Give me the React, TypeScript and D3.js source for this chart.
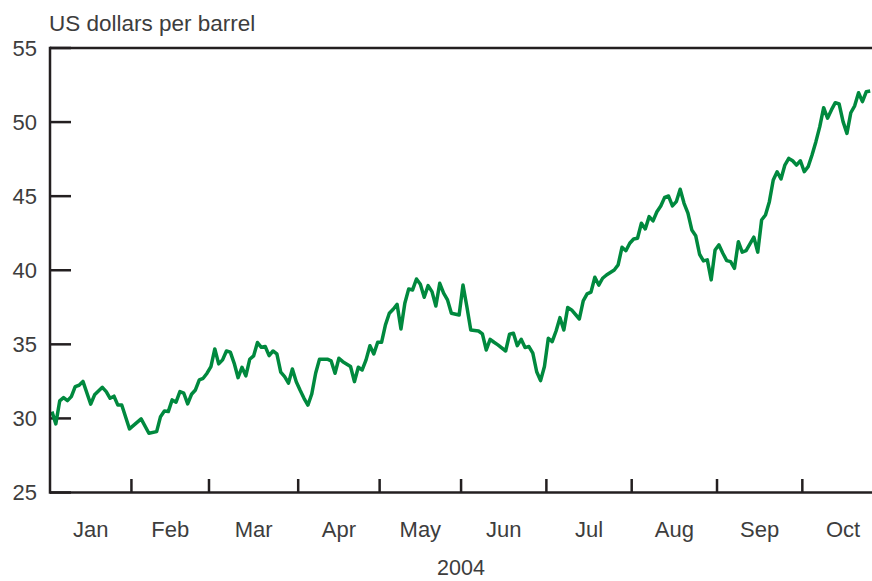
import React from "react";
import * as d3 from "d3";

// Trading-day index (from 2 Jan 2004) and oil price, US dollars per barrel
const days: number[] = [
  0, 1, 2, 3, 4, 5, 6, 7, 8, 10, 11, 13, 14, 15, 16, 17, 18, 20, 23, 25, 27, 28, 29, 30,
  31, 32, 33, 34, 35, 36, 37, 38, 39, 40, 41, 42, 43, 44, 45, 46, 47, 48, 49, 50, 51, 52,
  53, 54, 55, 56, 57, 58, 59, 60, 61, 62, 63, 64, 65, 66, 67, 68, 69, 71, 72, 73, 74, 75,
  77, 78, 79, 80, 81, 82, 83, 84, 85, 86, 87, 88, 89, 90, 91, 92, 93, 94, 95, 96, 97, 98,
  99, 100, 101, 102, 103, 105, 106, 107, 108, 110, 111, 112, 113, 114, 115, 117, 118, 119,
  120, 121, 122, 123, 124, 125, 126, 127, 128, 129, 130, 131, 132, 133, 134, 136, 137, 138,
  139, 140, 141, 142, 143, 145, 146, 147, 148, 149, 150, 151, 152, 153, 154, 155, 156, 157,
  158, 159, 160, 161, 162, 163, 164, 165, 166, 167, 168, 169, 170, 171, 172, 173, 174, 175,
  176, 177, 178, 179, 181, 182, 183, 184, 185, 186, 187, 188, 189, 190, 191, 192, 193, 194,
  195, 196, 197, 198, 199, 200, 201, 202, 203, 204, 205, 206, 207, 208, 209, 210, 211,
];

const prices: number[] = [
  30.46, 29.63, 31.18, 31.4, 31.2, 31.47, 32.15, 32.24, 32.5, 30.96, 31.59, 32.1, 31.81, 31.36,
  31.5, 30.9, 30.9, 29.29, 29.97, 29.0, 29.11, 30.12, 30.5, 30.46,
  31.25, 31.1, 31.81, 31.7, 30.98, 31.63, 31.92, 32.6, 32.71, 33.05, 33.5, 34.69, 33.68, 33.95,
  34.55, 34.47, 33.72, 32.75, 33.45, 32.87, 33.99, 34.22,
  35.12, 34.8, 34.85, 34.24, 34.55, 34.35, 33.12, 32.82, 32.38, 33.34, 32.48, 31.9, 31.36, 30.9,
  31.65, 33.05, 34.0, 34.0, 33.88, 33.05, 34.06, 33.83,
  33.5, 32.48, 33.45, 33.27, 33.95, 34.91, 34.35, 35.14, 35.14, 36.31, 37.1, 37.37, 37.7, 36.04,
  37.77, 38.74, 38.67, 39.41, 39.05, 38.18, 38.96, 38.56,
  37.59, 39.12, 38.45, 38.0, 37.1, 36.98, 39.0, 37.54, 35.97, 35.9, 35.7, 34.62, 35.34, 35.14,
  34.96, 34.55, 35.68, 35.75,
  34.91, 35.34, 34.78, 34.85, 34.4, 33.15, 32.55, 33.5, 35.41, 35.18, 35.9, 36.8, 35.97, 37.48,
  37.32, 36.71, 37.93, 38.4,
  38.52, 39.53, 39.0, 39.46, 39.68, 40.02, 40.36, 41.55, 41.32, 41.82, 42.11, 42.16, 43.17, 42.79,
  43.62, 43.33, 43.95, 44.34,
  44.92, 45.01, 44.34, 44.63, 45.47, 44.52, 43.85, 42.72, 42.33, 41.08, 40.63, 40.7, 39.35, 41.37,
  41.71, 41.15, 40.65, 40.58,
  40.13, 41.93, 41.22, 41.32, 42.23, 41.22, 43.39, 43.73, 44.63, 46.09, 46.65, 46.16, 47.1, 47.55,
  47.39, 47.1, 47.39, 46.65,
  46.99, 47.78, 48.68, 49.69, 50.97, 50.26, 50.82, 51.31, 51.22, 50.03, 49.24, 50.63, 51.1, 51.98,
  51.38, 52.05, 52.1,
];

// Month boundaries as trading-day counts
const monthStarts: number[] = [0, 21, 41, 64, 85, 106, 128, 150, 172, 194, 215];
const monthLabels: string[] = ["Jan", "Feb", "Mar", "Apr", "May", "Jun", "Jul", "Aug", "Sep", "Oct"];
const yTicks: number[] = [25, 30, 35, 40, 45, 50, 55];
const yearLabel = "2004";
const unitLabel = "US dollars per barrel";

const W = 872;
const H = 581;
const left = 50;
const right = 872;
const top = 48;
const bottom = 492.5;
const dayW = 3.878;

export default function App() {
  const x = d3.scaleLinear().domain([0, 1]).range([left, left + dayW]);
  const xc = (d: number) => x(d + 0.5);
  const y = d3.scaleLinear().domain([25, 55]).range([bottom, top]);
  const data = days.map((d, i) => ({ d, v: prices[i] }));
  const line = d3
    .line<{ d: number; v: number }>()
    .x((p) => xc(p.d))
    .y((p) => y(p.v));

  const axisColor = "#231f20";
  const textColor = "#3d3d3d";
  const font = "'Liberation Sans', Arial, Helvetica, sans-serif";

  return (
    <svg
      width={W}
      height={H}
      style={{ position: "absolute", left: 0, top: 0, background: "#fff" }}
      fontFamily={font}
    >
      <rect x={0} y={0} width={W} height={H} fill="#fff" />
      <text x={left - 1} y={31} fontSize={22.5} fill={textColor}>
        {unitLabel}
      </text>
      {yTicks.map((t) => (
        <g key={t}>
          <line x1={left} x2={left + 21} y1={y(t)} y2={y(t)} stroke={axisColor} strokeWidth={2.5} />
          <text x={37} y={y(t) + 7.8} fontSize={22} textAnchor="end" fill={textColor}>
            {t}
          </text>
        </g>
      ))}
      {monthStarts.slice(1, -1).map((m) => (
        <line
          key={m}
          x1={x(m)}
          x2={x(m)}
          y1={bottom}
          y2={bottom - 13.5}
          stroke={axisColor}
          strokeWidth={2.5}
        />
      ))}
      {monthLabels.map((lab, i) => (
        <text
          key={lab}
          x={(x(monthStarts[i]) + x(monthStarts[i + 1])) / 2}
          y={536.5}
          fontSize={22}
          textAnchor="middle"
          fill={textColor}
        >
          {lab}
        </text>
      ))}
      <text x={(left + right) / 2} y={575} fontSize={21.5} textAnchor="middle" fill={textColor}>
        {yearLabel}
      </text>
      <path d={line(data) || ""} fill="none" stroke="#00893e" strokeWidth={3.5} strokeLinejoin="round" />
      <line x1={left} x2={right} y1={top} y2={top} stroke={axisColor} strokeWidth={2.5} />
      <line x1={left} x2={right} y1={bottom} y2={bottom} stroke={axisColor} strokeWidth={2.5} />
      <line x1={left} x2={left} y1={top - 1.25} y2={bottom + 1.25} stroke={axisColor} strokeWidth={2.5} />
    </svg>
  );
}
